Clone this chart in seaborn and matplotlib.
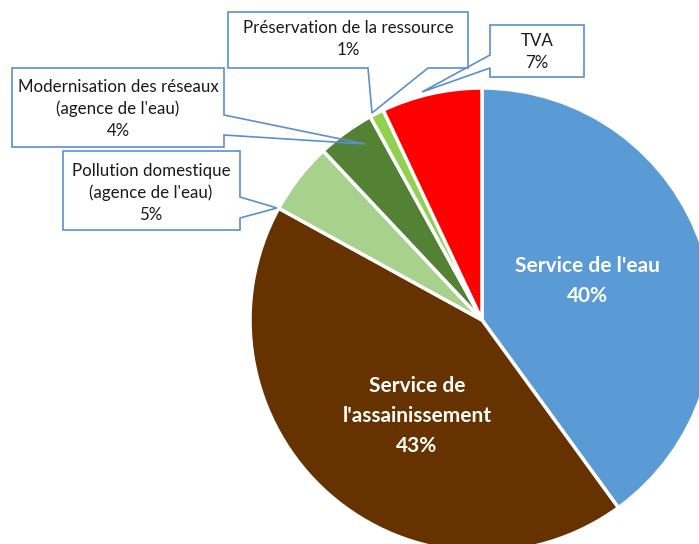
import pandas as pd
import seaborn as sns
import matplotlib.pyplot as plt
from matplotlib.patches import Polygon

# Data (clockwise from 12 o'clock)
categories = ["Service de l'eau", "Service de\nl'assainissement", "Pollution domestique\n(agence de l'eau)",
              "Modernisation des réseaux\n(agence de l'eau)", "Préservation de la ressource", "TVA"]
shares = [40, 43, 5, 4, 1, 7]
colors = ["#5B9BD5", "#663300", "#A9D18E", "#548235", "#92D050", "#FF0000"]

df = pd.DataFrame({"poste": categories, "part": shares, "couleur": colors})

sns.set_theme(style="white")
plt.rcParams['font.family'] = ['Lato', 'DejaVu Sans']

W, H = 699, 544
fig = plt.figure(figsize=(W / 100, H / 100), dpi=100)
ax = fig.add_axes([0, 0, 1, 1])

cx, cy, r = 482, H - 320, 232
ax.pie(df["part"], colors=df["couleur"], startangle=90, counterclock=False,
       center=(cx, cy), radius=r,
       wedgeprops=dict(edgecolor="white", linewidth=2.5))
ax.set_xlim(0, W)
ax.set_ylim(0, H)
ax.axis("off")

# inner labels (white, bold)
inner = {0: (587, 281), 1: (417, 416)}
for i, (x, y) in inner.items():
    ax.text(x, H - y, f"{df['poste'][i]}\n{df['part'][i]}%", color="white", fontsize=15,
            fontweight="bold", ha="center", va="center", linespacing=1.6)


def px(pts):
    return [(x, H - y) for x, y in pts]


# callout boxes: outline in pixel coordinates, text centre
callouts = {
    2: ([(63, 151), (240, 151), (240, 197), (277, 208), (240, 218), (240, 230), (63, 230)], (151, 193)),
    3: ([(12, 68), (224, 68), (224, 115), (365, 144), (224, 135), (224, 147), (12, 147)], (118, 109)),
    4: ([(228, 12), (468, 12), (468, 68), (428, 68), (372, 113), (368, 68), (228, 68)], (348, 39)),
    5: ([(490, 25), (584, 25), (584, 77), (490, 77), (490, 68), (422, 92), (490, 55)], (537, 52)),
}
for i, (outline, (tx, ty)) in callouts.items():
    ax.add_patch(Polygon(px(outline), closed=True, facecolor="white", edgecolor="none", zorder=0.5))
    ax.add_patch(Polygon(px(outline), closed=True, fill=False, edgecolor="#5B8FCF", linewidth=1.2, zorder=5))
    ax.text(tx, H - ty, f"{df['poste'][i]}\n{df['part'][i]}%", color="#1a1a1a", fontsize=12.2,
            ha="center", va="center", linespacing=1.45, zorder=6)

fig.savefig("out.png", dpi=100)
